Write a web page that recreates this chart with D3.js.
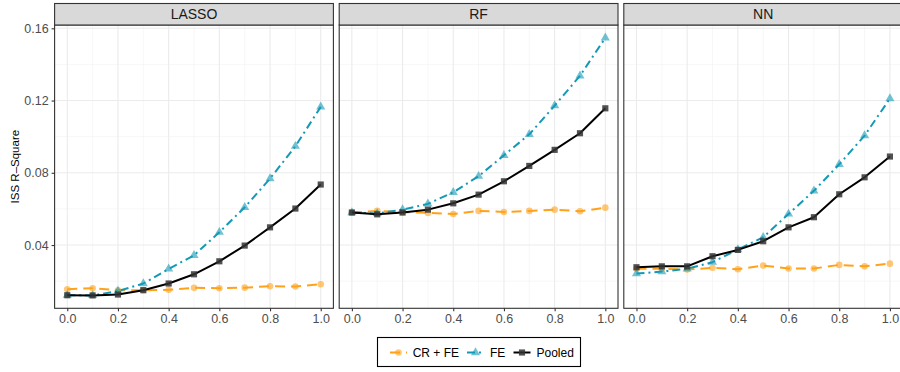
<!DOCTYPE html>
<html>
<head>
<meta charset="utf-8">
<script src="https://cdn.jsdelivr.net/npm/d3@7"></script>
<style>
  html, body { margin: 0; padding: 0; background: #fff; }
  svg { display: block; font-family: "Liberation Sans", Arial, sans-serif; }
</style>
</head>
<body>
<svg id="chart" width="900" height="372"></svg>
<script>
// Share of pooled data (x) and in-sample R-squared for each estimator
const shares = [0.0, 0.1, 0.2, 0.3, 0.4, 0.5, 0.6, 0.7, 0.8, 0.9, 1.0];
const models = ["LASSO", "RF", "NN"];
const seriesNames = ["CR + FE", "FE", "Pooled"];

const lassoCRFE   = [0.0155, 0.0161, 0.0150, 0.0150, 0.0152, 0.0163, 0.0161, 0.0164, 0.0172, 0.0170, 0.0183];
const lassoFE     = [0.0122, 0.0121, 0.0145, 0.0187, 0.0268, 0.0343, 0.0471, 0.0609, 0.0768, 0.0947, 0.1165];
const lassoPooled = [0.0122, 0.0121, 0.0126, 0.0150, 0.0187, 0.0238, 0.0310, 0.0397, 0.0498, 0.0602, 0.0735];

const rfCRFE   = [0.0580, 0.0589, 0.0582, 0.0578, 0.0572, 0.0589, 0.0583, 0.0589, 0.0596, 0.0587, 0.0607];
const rfFE     = [0.0580, 0.0575, 0.0596, 0.0628, 0.0692, 0.0781, 0.0897, 0.1013, 0.1172, 0.1337, 0.1547];
const rfPooled = [0.0580, 0.0570, 0.0580, 0.0596, 0.0631, 0.0679, 0.0753, 0.0838, 0.0927, 0.1019, 0.1157];

const nnCRFE   = [0.0268, 0.0268, 0.0264, 0.0274, 0.0266, 0.0286, 0.0270, 0.0270, 0.0290, 0.0282, 0.0297];
const nnFE     = [0.0242, 0.0253, 0.0268, 0.0305, 0.0375, 0.0443, 0.0572, 0.0700, 0.0847, 0.1006, 0.1211];
const nnPooled = [0.0277, 0.0282, 0.0282, 0.0338, 0.0373, 0.0421, 0.0498, 0.0554, 0.0681, 0.0775, 0.0890];

const xTicks = [0.0, 0.2, 0.4, 0.6, 0.8, 1.0];
const xMinor = [0.1, 0.3, 0.5, 0.7, 0.9];
const yTicks = [0.04, 0.08, 0.12, 0.16];
const yMinor = [0.02, 0.06, 0.10, 0.14];
const yTitle = "ISS R\u2013Square";

const panelData = {
  "LASSO": [lassoCRFE, lassoFE, lassoPooled],
  "RF":    [rfCRFE, rfFE, rfPooled],
  "NN":    [nnCRFE, nnFE, nnPooled]
};

// Visual encoding per series
const styles = {
  "CR + FE": { color: "#FFA21A", dash: "10,6",     shape: d3.symbolCircle,   size: 34, fill: "#FFA21A", op: 0.6 },
  "FE":      { color: "#1499B5", dash: "8,4,2,4",  shape: d3.symbolTriangle, size: 36, fill: "#1499B5", op: 0.6 },
  "Pooled":  { color: "#000000", dash: null,       shape: d3.symbolSquare,   size: 38, fill: "#333333", op: 0.85 }
};

const svg = d3.select("#chart");

const panelW = 278.8, gap = 5.8;
const left0 = 54.6;
const stripTop = 3.5, stripH = 21.5;
const plotTop = stripTop + stripH, plotBottom = 308.3;
const tickFont = 12.5;

// Shared scales (x expanded 5% each side, y common to all panels)
const allVals = [].concat(...models.map(m => [].concat(...panelData[m])));
const yMin = d3.min(allVals), yMax = d3.max(allVals);
const yPad = (yMax - yMin) * 0.05;
const y = d3.scaleLinear().domain([yMin - yPad, yMax + yPad]).range([plotBottom, plotTop]);

models.forEach((m, i) => {
  const x0 = left0 + i * (panelW + gap);
  const x = d3.scaleLinear().domain([-0.05, 1.05]).range([x0, x0 + panelW]);
  const g = svg.append("g");

  // grid
  g.selectAll(".ymin").data(yMinor).join("line")
    .attr("x1", x0).attr("x2", x0 + panelW)
    .attr("y1", d => y(d)).attr("y2", d => y(d))
    .attr("stroke", "#F2F2F2").attr("stroke-width", 0.6);
  g.selectAll(".xmin").data(xMinor).join("line")
    .attr("y1", plotTop).attr("y2", plotBottom)
    .attr("x1", d => x(d)).attr("x2", d => x(d))
    .attr("stroke", "#F2F2F2").attr("stroke-width", 0.6);
  g.selectAll(".ymaj").data(yTicks).join("line")
    .attr("x1", x0).attr("x2", x0 + panelW)
    .attr("y1", d => y(d)).attr("y2", d => y(d))
    .attr("stroke", "#EBEBEB").attr("stroke-width", 1.1);
  g.selectAll(".xmaj").data(xTicks).join("line")
    .attr("y1", plotTop).attr("y2", plotBottom)
    .attr("x1", d => x(d)).attr("x2", d => x(d))
    .attr("stroke", "#EBEBEB").attr("stroke-width", 1.1);

  // series
  const line = d3.line().x((d, j) => x(shares[j])).y(d => y(d));
  panelData[m].forEach((vals, k) => {
    const st = styles[seriesNames[k]];
    g.append("path").datum(vals)
      .attr("d", line)
      .attr("fill", "none")
      .attr("stroke", st.color)
      .attr("stroke-width", 2)
      .attr("stroke-dasharray", st.dash)
      .attr("stroke-linejoin", "round");
    g.selectAll(null).data(vals).join("path")
      .attr("transform", (d, j) => `translate(${x(shares[j])},${y(d)})`)
      .attr("d", d3.symbol().type(st.shape).size(st.size))
      .attr("fill", st.fill)
      .attr("fill-opacity", st.op);
  });

  // panel border
  g.append("rect")
    .attr("x", x0).attr("y", plotTop).attr("width", panelW).attr("height", plotBottom - plotTop)
    .attr("fill", "none").attr("stroke", "#333333").attr("stroke-width", 1.1);

  // strip
  g.append("rect")
    .attr("x", x0).attr("y", stripTop).attr("width", panelW).attr("height", stripH)
    .attr("fill", "#D9D9D9").attr("stroke", "#333333").attr("stroke-width", 1.1);
  g.append("text")
    .attr("x", x0 + panelW / 2).attr("y", stripTop + stripH / 2)
    .attr("dy", "0.36em").attr("text-anchor", "middle")
    .attr("font-size", 14).attr("fill", "#1A1A1A")
    .text(m);

  // x axis
  const xAxis = g.append("g").attr("transform", `translate(0,${plotBottom})`)
    .call(d3.axisBottom(x).tickValues(xTicks).tickFormat(d3.format(".1f")).tickSizeOuter(0).tickSize(3).tickPadding(3));
  xAxis.select(".domain").remove();
  xAxis.selectAll("line").attr("stroke", "#333333").attr("stroke-width", 1.1);
  xAxis.selectAll("text").attr("fill", "#4D4D4D").attr("font-size", tickFont)
    .attr("font-family", "Liberation Sans, Arial, sans-serif");

  // y axis on first panel only
  if (i === 0) {
    const yAxis = g.append("g").attr("transform", `translate(${x0},0)`)
      .call(d3.axisLeft(y).tickValues(yTicks).tickFormat(d3.format(".2f")).tickSizeOuter(0).tickSize(3).tickPadding(3));
    yAxis.select(".domain").remove();
    yAxis.selectAll("line").attr("stroke", "#333333").attr("stroke-width", 1.1);
    yAxis.selectAll("text").attr("fill", "#4D4D4D").attr("font-size", tickFont)
      .attr("font-family", "Liberation Sans, Arial, sans-serif");
  }
});

// y axis title
svg.append("text")
  .attr("transform", `translate(18.5,${(plotTop + plotBottom) / 2}) rotate(-90)`)
  .attr("text-anchor", "middle")
  .attr("font-size", 11.5).attr("fill", "#000")
  .text(yTitle);

// legend
const legend = svg.append("g");
legend.append("rect")
  .attr("x", 377.5).attr("y", 337.5).attr("width", 203).attr("height", 29)
  .attr("fill", "#fff").attr("stroke", "#000").attr("stroke-width", 1.1);
const keyX = [390, 467, 513.5];
const labelX = [412.7, 490, 536.5];
const legY = 352.5;
seriesNames.forEach((s, k) => {
  const st = styles[s];
  legend.append("line")
    .attr("x1", keyX[k]).attr("x2", keyX[k] + 17)
    .attr("y1", legY).attr("y2", legY)
    .attr("stroke", st.color).attr("stroke-width", 2)
    .attr("stroke-dasharray", st.dash);
  legend.append("path")
    .attr("transform", `translate(${keyX[k] + 8.5},${legY})`)
    .attr("d", d3.symbol().type(st.shape).size(st.size))
    .attr("fill", st.fill).attr("fill-opacity", st.op);
  legend.append("text")
    .attr("x", labelX[k]).attr("y", legY).attr("dy", "0.36em")
    .attr("font-size", 12).attr("fill", "#000")
    .text(s);
});
</script>
</body>
</html>
